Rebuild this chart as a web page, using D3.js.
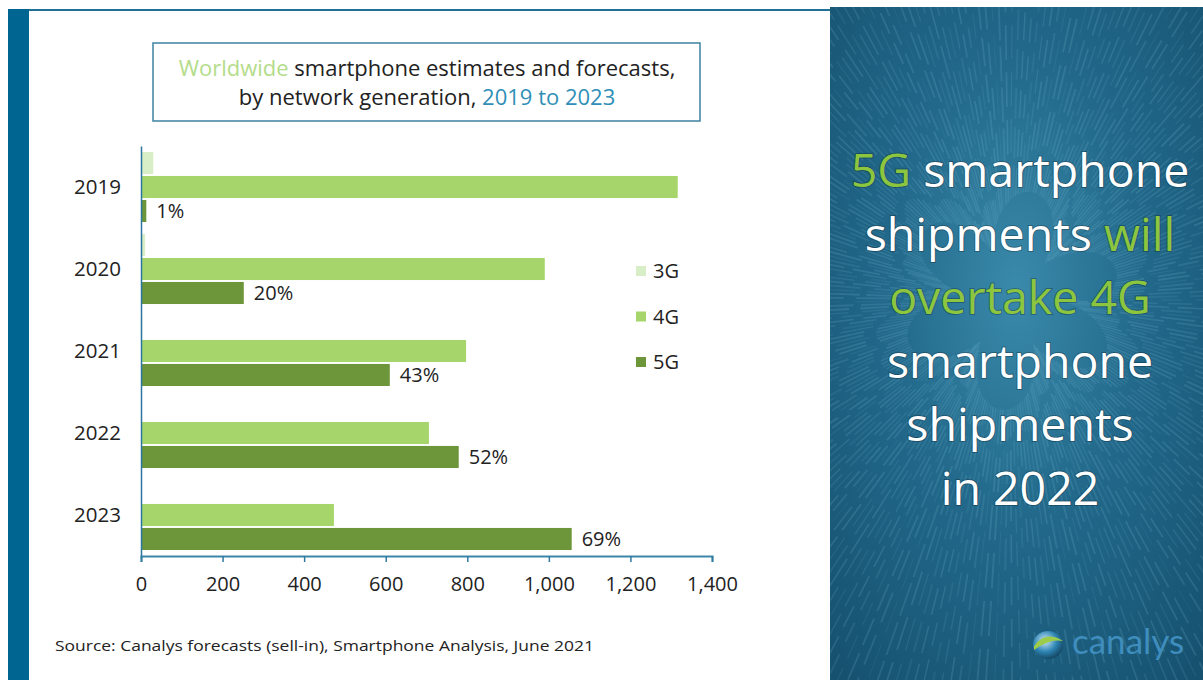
<!DOCTYPE html>
<html><head><meta charset="utf-8">
<script src="https://cdn.jsdelivr.net/npm/d3@7"></script>
<style>html,body{margin:0;padding:0;background:#fff;overflow:hidden}svg{display:block}</style>
</head><body>
<svg id="c" width="1203" height="680"></svg>
<script>
const years = ["2019","2020","2021","2022","2023"];
const series = ["3G","4G","5G"];
const v3G = [30, 10, 3, 1, 0];
const v4G = [1316, 990, 797, 706, 473];
const v5G = [13, 252, 610, 779, 1056];
const shareLabels = ["1%","20%","43%","52%","69%"];
const xTicks = [0,200,400,600,800,1000,1200,1400];
const colors = {"3G":"#d8eec6","4G":"#a6d66b","5G":"#6d953a"};
const FONT = "'Open Sans', Lato, sans-serif";

const svg = d3.select("#c");
const defs = svg.append("defs");

// frame
svg.append("rect").attr("x",8).attr("y",9).attr("width",822).attr("height",2).attr("fill","#1f6f97");
svg.append("rect").attr("x",8).attr("y",9).attr("width",21).attr("height",671).attr("fill","#006591");

// right panel
const rg = defs.append("radialGradient").attr("id","rg").attr("cx","50%").attr("cy","42%").attr("r","75%");
rg.append("stop").attr("offset","0%").attr("stop-color","#3a8aab");
rg.append("stop").attr("offset","45%").attr("stop-color","#22698b");
rg.append("stop").attr("offset","100%").attr("stop-color","#16516f");
defs.append("clipPath").attr("id","pc").append("rect").attr("x",830).attr("y",7).attr("width",373).attr("height",673);
const panel = svg.append("g").attr("clip-path","url(#pc)");
panel.append("rect").attr("x",830).attr("y",7).attr("width",373).attr("height",673).attr("fill","url(#rg)");
const cx = 1010, cy = 300;
const angles = d3.range(0, 360, 1.3);
panel.selectAll("line.s").data(angles).join("line")
  .attr("x1", a => cx + Math.cos(a*Math.PI/180) * (50 + 60*Math.abs(Math.sin(a*7.3))))
  .attr("y1", a => cy + Math.sin(a*Math.PI/180) * (50 + 60*Math.abs(Math.sin(a*7.3))))
  .attr("x2", a => cx + Math.cos(a*Math.PI/180) * 600)
  .attr("y2", a => cy + Math.sin(a*Math.PI/180) * 600)
  .attr("stroke","#8ccbe0").attr("stroke-opacity", a => 0.07 + 0.1*Math.abs(Math.sin(a*3.1)))
  .attr("stroke-dasharray", a => `${20+15*Math.abs(Math.sin(a*2.2))} ${6+8*Math.abs(Math.cos(a*4.1))}`)
  .attr("stroke-width", a => 1 + Math.abs(Math.cos(a*5.7)));

const headline = [
  [["5G","#8cc63f"],[" smartphone","#ffffff"]],
  [["shipments ","#ffffff"],["will","#8cc63f"]],
  [["overtake 4G","#8cc63f"]],
  [["smartphone","#ffffff"]],
  [["shipments","#ffffff"]],
  [["in 2022","#ffffff"]]
];
const ht = svg.append("g");
headline.forEach((parts,i)=>{
  const t = ht.append("text").attr("x",1020).attr("y",187+i*63.5).attr("text-anchor","middle")
    .attr("font-family",FONT).attr("font-size",46.5).style("paint-order","stroke")
    .attr("stroke","rgba(0,0,0,0.25)").attr("stroke-width",2);
  parts.forEach(p=>t.append("tspan").attr("fill",p[1]).text(p[0]));
});
// logo
const lg = defs.append("radialGradient").attr("id","lg").attr("cx","40%").attr("cy","35%").attr("r","70%");
lg.append("stop").attr("offset","0%").attr("stop-color","#cfe9f5");
lg.append("stop").attr("offset","55%").attr("stop-color","#2f86b5");
lg.append("stop").attr("offset","100%").attr("stop-color","#12405a");
svg.append("ellipse").attr("cx",1048).attr("cy",645).attr("rx",15).attr("ry",14).attr("fill","url(#lg)");
svg.append("path").attr("d","M1034,646 Q1046,630 1063,641 Q1050,638 1034,650 Z").attr("fill","#9ccc4a");
svg.append("text").attr("x",1072).attr("y",654).attr("font-family","Lato, sans-serif").attr("font-size",35)
  .attr("fill","#3f8dbd").text("canalys");

// title box
svg.append("rect").attr("x",153).attr("y",43).attr("width",547).attr("height",78)
  .attr("fill","#fff").attr("stroke","#3d82a3").attr("stroke-width",1.5);
const t1 = svg.append("text").attr("x",427).attr("y",75.5).attr("text-anchor","middle")
  .attr("font-family",FONT).attr("font-size",22).attr("fill","#222");
t1.append("tspan").attr("fill","#b4dc8a").text("Worldwide ");
t1.append("tspan").text("smartphone estimates and forecasts,");
const t2 = svg.append("text").attr("x",427).attr("y",105).attr("text-anchor","middle")
  .attr("font-family",FONT).attr("font-size",22).attr("fill","#222");
t2.append("tspan").text("by network generation, ");
t2.append("tspan").attr("fill","#2f8fb8").text("2019 to 2023");

// chart
const x = d3.scaleLinear().domain([0,1400]).range([141,712]);
const y = d3.scaleBand().domain(years).range([146,556]).paddingInner(0.146).paddingOuter(0.073);
const y1 = d3.scaleBand().domain(series).range([0,y.bandwidth()]).paddingInner(0.08);

const data = years.map((yr,i)=>({year:yr, vals:[
  {s:"3G",v:v3G[i]},{s:"4G",v:v4G[i]},{s:"5G",v:v5G[i]}], label:shareLabels[i]}));

const g = svg.append("g");
const grp = g.selectAll("g.grp").data(data).join("g").attr("transform",d=>`translate(0,${y(d.year)})`);
grp.selectAll("rect").data(d=>d.vals).join("rect")
  .attr("x",x(0)).attr("y",d=>y1(d.s)).attr("height",y1.bandwidth())
  .attr("width",d=>x(d.v)-x(0)).attr("fill",d=>colors[d.s]);
grp.append("text").attr("x",d=>x(d.vals[2].v)+10).attr("y",y1("5G")+y1.bandwidth()/2)
  .attr("dy","0.36em").attr("font-family",FONT).attr("font-size",20).attr("fill","#222")
  .text(d=>d.label);

// axes
const xa = svg.append("g").attr("transform","translate(0,556)")
  .call(d3.axisBottom(x).tickValues(xTicks).tickFormat(d3.format(",")).tickSize(6).tickSizeOuter(6).tickPadding(15));
xa.select(".domain").attr("stroke","#3d86aa").attr("stroke-width",2);
xa.selectAll(".tick line").attr("stroke","#2f7aa0").attr("stroke-width",1.5);
xa.selectAll(".tick text").attr("font-family",FONT).attr("font-size",20).attr("fill","#222");

const ya = svg.append("g").attr("transform",`translate(${x(0)},0)`)
  .call(d3.axisLeft(y).tickSize(0).tickSizeOuter(0).tickPadding(20));
ya.select(".domain").attr("stroke","#2a76a0").attr("stroke-width",1.5);
ya.selectAll(".tick text").attr("font-family",FONT).attr("font-size",20.5).attr("fill","#222");

// legend
const leg = svg.append("g").attr("transform","translate(636,271)");
const li = leg.selectAll("g").data(series).join("g").attr("transform",(d,i)=>`translate(0,${i*45.5})`);
li.append("rect").attr("x",0).attr("y",-5).attr("width",10).attr("height",10).attr("fill",d=>colors[d]);
li.append("text").attr("x",17).attr("y",0).attr("dy","0.36em").attr("font-family",FONT)
  .attr("font-size",20).attr("fill","#222").text(d=>d);

// source
svg.append("text").attr("x",55).attr("y",651).attr("font-family",FONT).attr("font-size",15)
  .attr("fill","#222").attr("textLength",539).attr("lengthAdjust","spacingAndGlyphs")
  .text("Source: Canalys forecasts (sell-in), Smartphone  Analysis, June 2021");
</script>
</body></html>
